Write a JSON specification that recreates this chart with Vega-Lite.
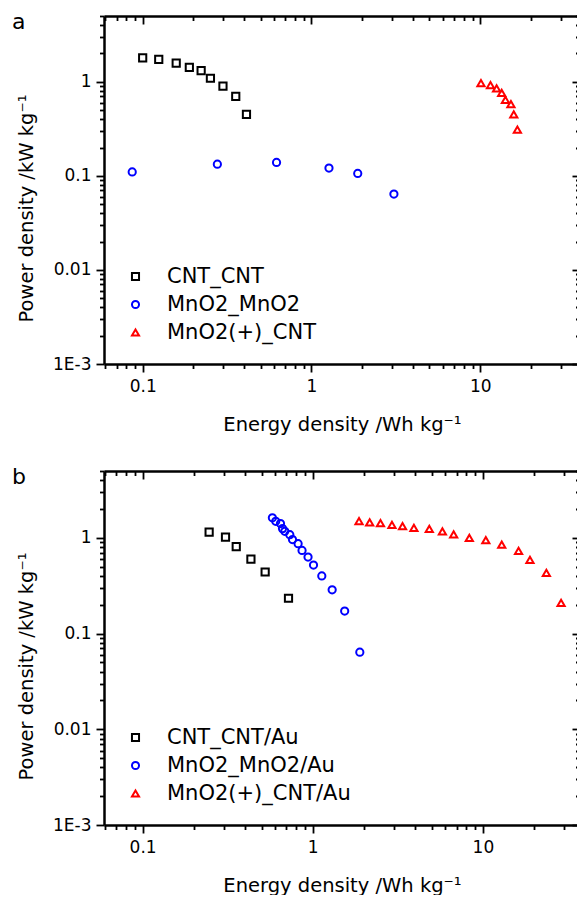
{
  "$schema": "https://vega.github.io/schema/vega-lite/v6.json",
  "padding": {"left": 12, "top": 7, "right": 0, "bottom": 0},
  "background": "white",
  "spacing": 28,
  "config": {
    "font": "DejaVu Sans",
    "view": {"stroke": null},
    "axis": {
      "domainColor": "#000000",
      "domainWidth": 2.5,
      "tickColor": "#000000",
      "tickWidth": 1.8,
      "labelFont": "DejaVu Sans",
      "labelFontSize": 17,
      "labelColor": "#000000",
      "titleFont": "DejaVu Sans",
      "titleFontSize": 19.5,
      "titleFontWeight": "normal",
      "titleColor": "#000000",
      "grid": false,
      "labelOverlap": false,
      "labelFlush": false
    },
    "legend": {
      "orient": "bottom-left",
      "offset": 21,
      "padding": 0,
      "labelFont": "DejaVu Sans",
      "labelFontSize": 21,
      "labelColor": "#000000",
      "labelLimit": 400,
      "symbolStrokeWidth": 2,
      "symbolSize": 50,
      "rowPadding": 6,
      "labelOffset": 21
    },
    "title": {"font": "DejaVu Sans", "fontSize": 22, "fontWeight": "normal", "color": "#000000"}
  },
  "datasets": {
    "a": [
      {"series": "CNT_CNT", "energy": 0.1, "power": 1.79},
      {"series": "CNT_CNT", "energy": 0.1245, "power": 1.73},
      {"series": "CNT_CNT", "energy": 0.158, "power": 1.58},
      {"series": "CNT_CNT", "energy": 0.189, "power": 1.42},
      {"series": "CNT_CNT", "energy": 0.222, "power": 1.31},
      {"series": "CNT_CNT", "energy": 0.252, "power": 1.09},
      {"series": "CNT_CNT", "energy": 0.299, "power": 0.9},
      {"series": "CNT_CNT", "energy": 0.356, "power": 0.7},
      {"series": "CNT_CNT", "energy": 0.412, "power": 0.45},
      {"series": "MnO2_MnO2", "energy": 0.0867, "power": 0.11},
      {"series": "MnO2_MnO2", "energy": 0.277, "power": 0.133},
      {"series": "MnO2_MnO2", "energy": 0.621, "power": 0.139},
      {"series": "MnO2_MnO2", "energy": 1.27, "power": 0.121},
      {"series": "MnO2_MnO2", "energy": 1.88, "power": 0.106},
      {"series": "MnO2_MnO2", "energy": 3.08, "power": 0.064},
      {"series": "MnO2(+)_CNT", "energy": 10.1, "power": 0.97},
      {"series": "MnO2(+)_CNT", "energy": 11.5, "power": 0.92},
      {"series": "MnO2(+)_CNT", "energy": 12.5, "power": 0.85},
      {"series": "MnO2(+)_CNT", "energy": 13.4, "power": 0.76},
      {"series": "MnO2(+)_CNT", "energy": 14.1, "power": 0.64},
      {"series": "MnO2(+)_CNT", "energy": 15.2, "power": 0.58},
      {"series": "MnO2(+)_CNT", "energy": 15.8, "power": 0.45},
      {"series": "MnO2(+)_CNT", "energy": 16.6, "power": 0.31}
    ],
    "b": [
      {"series": "CNT_CNT/Au", "energy": 0.246, "power": 1.15},
      {"series": "CNT_CNT/Au", "energy": 0.307, "power": 1.02},
      {"series": "CNT_CNT/Au", "energy": 0.355, "power": 0.81},
      {"series": "CNT_CNT/Au", "energy": 0.433, "power": 0.6},
      {"series": "CNT_CNT/Au", "energy": 0.525, "power": 0.44},
      {"series": "CNT_CNT/Au", "energy": 0.72, "power": 0.234},
      {"series": "MnO2_MnO2/Au", "energy": 0.579, "power": 1.62},
      {"series": "MnO2_MnO2/Au", "energy": 0.606, "power": 1.49},
      {"series": "MnO2_MnO2/Au", "energy": 0.646, "power": 1.41},
      {"series": "MnO2_MnO2/Au", "energy": 0.664, "power": 1.25},
      {"series": "MnO2_MnO2/Au", "energy": 0.685, "power": 1.17},
      {"series": "MnO2_MnO2/Au", "energy": 0.733, "power": 1.08},
      {"series": "MnO2_MnO2/Au", "energy": 0.76, "power": 0.96},
      {"series": "MnO2_MnO2/Au", "energy": 0.82, "power": 0.87},
      {"series": "MnO2_MnO2/Au", "energy": 0.865, "power": 0.74},
      {"series": "MnO2_MnO2/Au", "energy": 0.938, "power": 0.63},
      {"series": "MnO2_MnO2/Au", "energy": 1.01, "power": 0.52},
      {"series": "MnO2_MnO2/Au", "energy": 1.13, "power": 0.4},
      {"series": "MnO2_MnO2/Au", "energy": 1.3, "power": 0.287},
      {"series": "MnO2_MnO2/Au", "energy": 1.54, "power": 0.172},
      {"series": "MnO2_MnO2/Au", "energy": 1.89, "power": 0.064},
      {"series": "MnO2(+)_CNT/Au", "energy": 1.87, "power": 1.5},
      {"series": "MnO2(+)_CNT/Au", "energy": 2.16, "power": 1.45},
      {"series": "MnO2(+)_CNT/Au", "energy": 2.5, "power": 1.43},
      {"series": "MnO2(+)_CNT/Au", "energy": 2.92, "power": 1.37},
      {"series": "MnO2(+)_CNT/Au", "energy": 3.37, "power": 1.33},
      {"series": "MnO2(+)_CNT/Au", "energy": 3.93, "power": 1.27},
      {"series": "MnO2(+)_CNT/Au", "energy": 4.84, "power": 1.24},
      {"series": "MnO2(+)_CNT/Au", "energy": 5.78, "power": 1.17},
      {"series": "MnO2(+)_CNT/Au", "energy": 6.73, "power": 1.09},
      {"series": "MnO2(+)_CNT/Au", "energy": 8.32, "power": 1.0},
      {"series": "MnO2(+)_CNT/Au", "energy": 10.4, "power": 0.95},
      {"series": "MnO2(+)_CNT/Au", "energy": 12.9, "power": 0.85},
      {"series": "MnO2(+)_CNT/Au", "energy": 16.2, "power": 0.73},
      {"series": "MnO2(+)_CNT/Au", "energy": 18.9, "power": 0.59},
      {"series": "MnO2(+)_CNT/Au", "energy": 23.6, "power": 0.43},
      {"series": "MnO2(+)_CNT/Au", "energy": 28.8, "power": 0.21}
    ]
  },
  "resolve": {"scale": {"color": "independent", "shape": "independent", "x": "independent", "y": "independent"}, "legend": {"color": "independent", "shape": "independent"}},
  "vconcat": [
    {
      "title": {"text": "a", "anchor": "start", "frame": "group", "baseline": "alphabetic", "offset": -12, "dx": -92, "dy": 32},
      "width": 476,
      "height": 348,
      "data": {"name": "a"},
      "layer": [
        {
          "mark": {"type": "point", "filled": false, "strokeWidth": 2, "size": 52, "opacity": 1},
          "encoding": {
            "x": {"field": "energy", "type": "quantitative",
              "scale": {"type": "log", "domain": [0.059, 39], "nice": false},
              "axis": {"orient": "bottom", "title": "Energy density /Wh kg⁻¹",
                "values": [0.06,0.07,0.08,0.09,0.1,0.2,0.3,0.4,0.5,0.6,0.7,0.8,0.9,1,2,3,4,5,6,7,8,9,10,20,30],
                "labelExpr": "abs(log(datum.value)/LN10 - round(log(datum.value)/LN10)) < 1e-6 ? format(datum.value, '~g') : ''",
                "tickSize": {"condition": {"test": "abs(log(datum.value)/LN10 - round(log(datum.value)/LN10)) < 1e-6", "value": 8}, "value": 4.5},
                "labelPadding": 6, "titlePadding": 21}},
            "y": {"field": "power", "type": "quantitative",
              "scale": {"type": "log", "domain": [0.001, 5], "nice": false},
              "axis": {"orient": "left", "title": "Power density /kW kg⁻¹",
                "values": [0.001,0.002,0.003,0.004,0.005,0.006,0.007,0.008,0.009,0.01,0.02,0.03,0.04,0.05,0.06,0.07,0.08,0.09,0.1,0.2,0.3,0.4,0.5,0.6,0.7,0.8,0.9,1,2,3,4,5],
                "labelExpr": "abs(datum.value - 0.001) < 1e-9 ? '1E-3' : (abs(log(datum.value)/LN10 - round(log(datum.value)/LN10)) < 1e-6 ? format(datum.value, '~g') : '')",
                "tickSize": {"condition": {"test": "abs(log(datum.value)/LN10 - round(log(datum.value)/LN10)) < 1e-6", "value": 8}, "value": 4.5},
                "labelPadding": 5, "titlePadding": 16, "titleY": 192}},
            "color": {"field": "series", "type": "nominal",
              "scale": {"domain": ["CNT_CNT", "MnO2_MnO2", "MnO2(+)_CNT"], "range": ["#000000", "#0000ff", "#ff0000"]},
              "legend": {"title": null}},
            "shape": {"field": "series", "type": "nominal",
              "scale": {"domain": ["CNT_CNT", "MnO2_MnO2", "MnO2(+)_CNT"], "range": ["square", "circle", "triangle-up"]},
              "legend": {"title": null}}
          }
        },
        {
          "mark": {"type": "point", "opacity": 0},
          "encoding": {
            "x": {"field": "energy", "type": "quantitative",
              "axis": {"orient": "top", "title": null, "labels": false,
                "values": [0.06,0.07,0.08,0.09,0.1,0.2,0.3,0.4,0.5,0.6,0.7,0.8,0.9,1,2,3,4,5,6,7,8,9,10,20,30],
                "tickSize": {"condition": {"test": "abs(log(datum.value)/LN10 - round(log(datum.value)/LN10)) < 1e-6", "value": -8}, "value": -4.5}}},
            "y": {"field": "power", "type": "quantitative",
              "axis": {"orient": "right", "title": null, "labels": false,
                "values": [0.001,0.002,0.003,0.004,0.005,0.006,0.007,0.008,0.009,0.01,0.02,0.03,0.04,0.05,0.06,0.07,0.08,0.09,0.1,0.2,0.3,0.4,0.5,0.6,0.7,0.8,0.9,1,2,3,4,5],
                "tickSize": {"condition": {"test": "abs(log(datum.value)/LN10 - round(log(datum.value)/LN10)) < 1e-6", "value": -8}, "value": -4.5}}}
          }
        }
      ],
      "resolve": {"axis": {"x": "independent", "y": "independent"}}
    },
    {
      "title": {"text": "b", "anchor": "start", "frame": "group", "baseline": "alphabetic", "offset": -12, "dx": -92, "dy": 32},
      "width": 476,
      "height": 354,
      "data": {"name": "b"},
      "layer": [
        {
          "mark": {"type": "point", "filled": false, "strokeWidth": 2, "size": 52, "opacity": 1},
          "encoding": {
            "x": {"field": "energy", "type": "quantitative",
              "scale": {"type": "log", "domain": [0.0593, 37.2], "nice": false},
              "axis": {"orient": "bottom", "title": "Energy density /Wh kg⁻¹",
                "values": [0.06,0.07,0.08,0.09,0.1,0.2,0.3,0.4,0.5,0.6,0.7,0.8,0.9,1,2,3,4,5,6,7,8,9,10,20,30],
                "labelExpr": "abs(log(datum.value)/LN10 - round(log(datum.value)/LN10)) < 1e-6 ? format(datum.value, '~g') : ''",
                "tickSize": {"condition": {"test": "abs(log(datum.value)/LN10 - round(log(datum.value)/LN10)) < 1e-6", "value": 8}, "value": 4.5},
                "labelPadding": 6, "titlePadding": 21}},
            "y": {"field": "power", "type": "quantitative",
              "scale": {"type": "log", "domain": [0.001, 5], "nice": false},
              "axis": {"orient": "left", "title": "Power density /kW kg⁻¹",
                "values": [0.001,0.002,0.003,0.004,0.005,0.006,0.007,0.008,0.009,0.01,0.02,0.03,0.04,0.05,0.06,0.07,0.08,0.09,0.1,0.2,0.3,0.4,0.5,0.6,0.7,0.8,0.9,1,2,3,4,5],
                "labelExpr": "abs(datum.value - 0.001) < 1e-9 ? '1E-3' : (abs(log(datum.value)/LN10 - round(log(datum.value)/LN10)) < 1e-6 ? format(datum.value, '~g') : '')",
                "tickSize": {"condition": {"test": "abs(log(datum.value)/LN10 - round(log(datum.value)/LN10)) < 1e-6", "value": 8}, "value": 4.5},
                "labelPadding": 5, "titlePadding": 16, "titleY": 195}},
            "color": {"field": "series", "type": "nominal",
              "scale": {"domain": ["CNT_CNT/Au", "MnO2_MnO2/Au", "MnO2(+)_CNT/Au"], "range": ["#000000", "#0000ff", "#ff0000"]},
              "legend": {"title": null}},
            "shape": {"field": "series", "type": "nominal",
              "scale": {"domain": ["CNT_CNT/Au", "MnO2_MnO2/Au", "MnO2(+)_CNT/Au"], "range": ["square", "circle", "triangle-up"]},
              "legend": {"title": null}}
          }
        },
        {
          "mark": {"type": "point", "opacity": 0},
          "encoding": {
            "x": {"field": "energy", "type": "quantitative",
              "axis": {"orient": "top", "title": null, "labels": false,
                "values": [0.06,0.07,0.08,0.09,0.1,0.2,0.3,0.4,0.5,0.6,0.7,0.8,0.9,1,2,3,4,5,6,7,8,9,10,20,30],
                "tickSize": {"condition": {"test": "abs(log(datum.value)/LN10 - round(log(datum.value)/LN10)) < 1e-6", "value": -8}, "value": -4.5}}},
            "y": {"field": "power", "type": "quantitative",
              "axis": {"orient": "right", "title": null, "labels": false,
                "values": [0.001,0.002,0.003,0.004,0.005,0.006,0.007,0.008,0.009,0.01,0.02,0.03,0.04,0.05,0.06,0.07,0.08,0.09,0.1,0.2,0.3,0.4,0.5,0.6,0.7,0.8,0.9,1,2,3,4,5],
                "tickSize": {"condition": {"test": "abs(log(datum.value)/LN10 - round(log(datum.value)/LN10)) < 1e-6", "value": -8}, "value": -4.5}}}
          }
        }
      ],
      "resolve": {"axis": {"x": "independent", "y": "independent"}}
    }
  ]
}
